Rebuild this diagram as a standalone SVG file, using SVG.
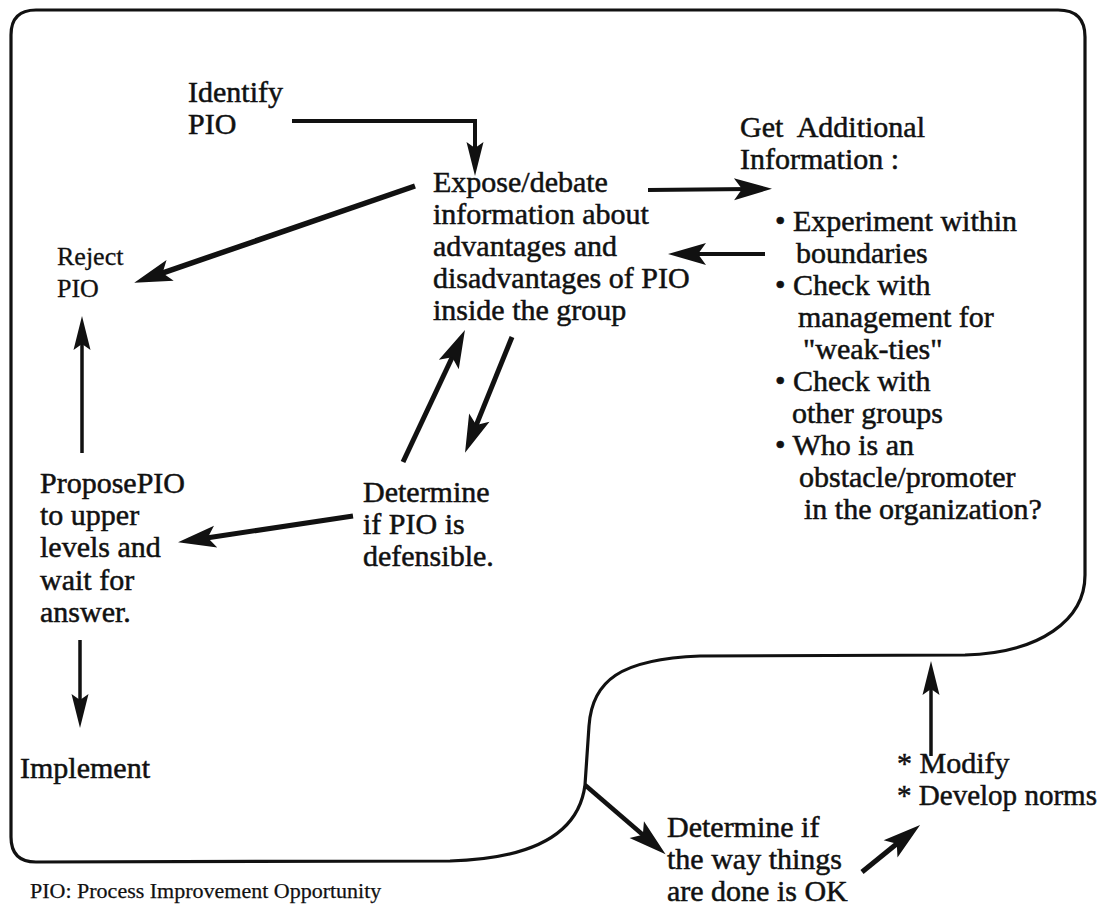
<svg xmlns="http://www.w3.org/2000/svg" width="1103" height="917" viewBox="0 0 1103 917">
  <style>
    .t { font-family: "Liberation Serif", "Times New Roman", serif; font-size: 30px; fill: #111; stroke: #111; stroke-width: 0.5px; }
    .s { font-family: "Liberation Serif", "Times New Roman", serif; font-size: 26px; fill: #111; stroke: #111; stroke-width: 0.3px; }
    .f { font-family: "Liberation Serif", "Times New Roman", serif; font-size: 22px; fill: #111; stroke: #111; stroke-width: 0.25px; }
    .frame { fill: none; stroke: #111; stroke-width: 3.2; stroke-linejoin: round; }
    .c { fill: none; stroke: #111; stroke-linecap: butt; }
  </style>
  <defs>
    <marker id="head" viewBox="-2 -14 44 28" markerWidth="44" markerHeight="28" refX="16" refY="0" orient="auto" markerUnits="userSpaceOnUse" overflow="visible">
      <path d="M38,0 L0,-11 L8,0 L0,11 Z" fill="#111"/>
    </marker>
    <marker id="headS" viewBox="-2 -12 40 24" markerWidth="40" markerHeight="24" refX="14" refY="0" orient="auto" markerUnits="userSpaceOnUse" overflow="visible">
      <path d="M34,0 L0,-8.5 L6,0 L0,8.5 Z" fill="#111"/>
    </marker>
  </defs>

  <rect width="1103" height="917" fill="#fff"/>

  <!-- outer loop boundary with the S-shaped notch at the lower right -->
  <path class="frame" d="M36,10 L1058,10 Q1085,10 1085,37 L1085,575 C1085,620 1040,653 965,655 L700,656 C620,659 592,681 589,726 L585,785 C578,840 520,859 450,861 L36,862 Q11,862 11,837 L11,35 Q11,10 36,10 Z"/>

  <g id="connectors">
    <path class="c" stroke-width="4" marker-end="url(#headS)" d="M292,121 H475 V156"/>
    <line class="c" stroke-width="5.5" marker-end="url(#head)" x1="415" y1="186" x2="155" y2="275.6"/>
    <line class="c" stroke-width="4" marker-end="url(#head)" x1="648" y1="190" x2="750" y2="189"/>
    <line class="c" stroke-width="4" marker-end="url(#head)" x1="765" y1="254" x2="690" y2="254"/>
    <line class="c" stroke-width="5" marker-end="url(#head)" x1="403" y1="462" x2="455.6" y2="350"/>
    <line class="c" stroke-width="5" marker-end="url(#head)" x1="512" y1="337" x2="473.3" y2="432.4"/>
    <line class="c" stroke-width="5" marker-end="url(#head)" x1="353" y1="516" x2="199.8" y2="539"/>
    <line class="c" stroke-width="3.5" marker-end="url(#headS)" x1="82" y1="453" x2="82" y2="336"/>
    <line class="c" stroke-width="3.5" marker-end="url(#headS)" x1="80" y1="640" x2="80" y2="708"/>
    <line class="c" stroke-width="4.5" marker-end="url(#head)" x1="585" y1="785" x2="648.9" y2="840"/>
    <line class="c" stroke-width="5" marker-end="url(#head)" x1="862" y1="872" x2="903" y2="838.8"/>
    <line class="c" stroke-width="3.5" marker-end="url(#headS)" x1="931" y1="756" x2="931" y2="681"/>
  </g>

  <g id="identify">
    <text class="t" x="188" y="102">Identify</text>
    <text class="t" x="188" y="134">PIO</text>
  </g>

  <g id="expose">
    <text class="t" x="433" y="192">Expose/debate</text>
    <text class="t" x="433" y="224">information about</text>
    <text class="t" x="433" y="256">advantages and</text>
    <text class="t" x="433" y="288">disadvantages of PIO</text>
    <text class="t" x="433" y="320">inside the group</text>
  </g>

  <g id="additional-info">
    <text class="t" x="740" y="137">Get&#160; Additional</text>
    <text class="t" x="740" y="169">Information :</text>
    <text class="t" x="775" y="231">• Experiment within</text>
    <text class="t" x="796" y="263">boundaries</text>
    <text class="t" x="775" y="295">• Check with</text>
    <text class="t" x="798" y="327">management for</text>
    <text class="t" x="803" y="359">"weak-ties"</text>
    <text class="t" x="775" y="391">• Check with</text>
    <text class="t" x="792" y="423">other groups</text>
    <text class="t" x="775" y="455">• Who is an</text>
    <text class="t" x="799" y="487">obstacle/promoter</text>
    <text class="t" x="804" y="519">in the organization?</text>
  </g>

  <g id="reject">
    <text class="s" x="57" y="265">Reject</text>
    <text class="s" x="57" y="297">PIO</text>
  </g>

  <g id="propose">
    <text class="t" x="40" y="493">ProposePIO</text>
    <text class="t" x="40" y="525">to upper</text>
    <text class="t" x="40" y="557">levels and</text>
    <text class="t" x="40" y="590">wait for</text>
    <text class="t" x="40" y="622">answer.</text>
  </g>

  <g id="defensible">
    <text class="t" x="363" y="502">Determine</text>
    <text class="t" x="363" y="534">if PIO is</text>
    <text class="t" x="363" y="566">defensible.</text>
  </g>

  <g id="implement">
    <text class="t" x="20" y="778">Implement</text>
  </g>

  <g id="check-ok">
    <text class="t" x="667" y="837">Determine if</text>
    <text class="t" x="667" y="869">the way things</text>
    <text class="t" x="667" y="901">are done is OK</text>
  </g>

  <g id="modify">
    <text class="t" x="897" y="773">* Modify</text>
    <text class="t" x="897" y="805" textLength="200" lengthAdjust="spacingAndGlyphs">* Develop norms</text>
  </g>

  <g id="legend">
    <text class="f" x="30" y="898">PIO: Process Improvement Opportunity</text>
  </g>
</svg>
